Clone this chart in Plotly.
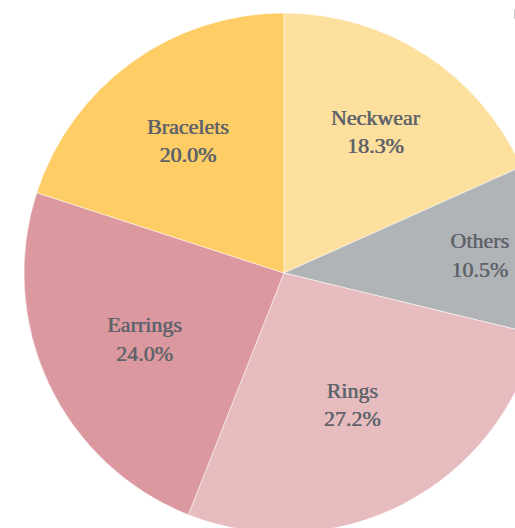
import plotly.graph_objects as go

categories = ["Neckwear", "Others", "Rings", "Earrings", "Bracelets"]
values = [18.3, 10.5, 27.2, 24.0, 20.0]
colors = ["#FEE09E", "#B1B4B7", "#E6BCBF", "#DB989F", "#FECD66"]

fig = go.Figure(go.Pie(
    labels=categories,
    values=values,
    sort=False,
    direction="clockwise",
    rotation=0,
    marker=dict(colors=colors, line=dict(color="rgba(255,255,255,0.5)", width=1)),
    texttemplate="%{label}<br>%{percent:.1%}",
    textposition="inside",
    insidetextorientation="horizontal",
    textfont=dict(family="Liberation Serif", size=22, color="#5f636a",
                  shadow="0.6px 0px 0px #5f636a"),
    hoverinfo="label+percent",
    showlegend=False,
))

fig.update_layout(
    width=568, height=550,
    margin=dict(l=0, r=0, t=13, b=17),
    paper_bgcolor="white",
    plot_bgcolor="white",
)

fig.write_html("out.html", post_script="document.body.style.overflow='hidden';document.body.style.margin='0';")
